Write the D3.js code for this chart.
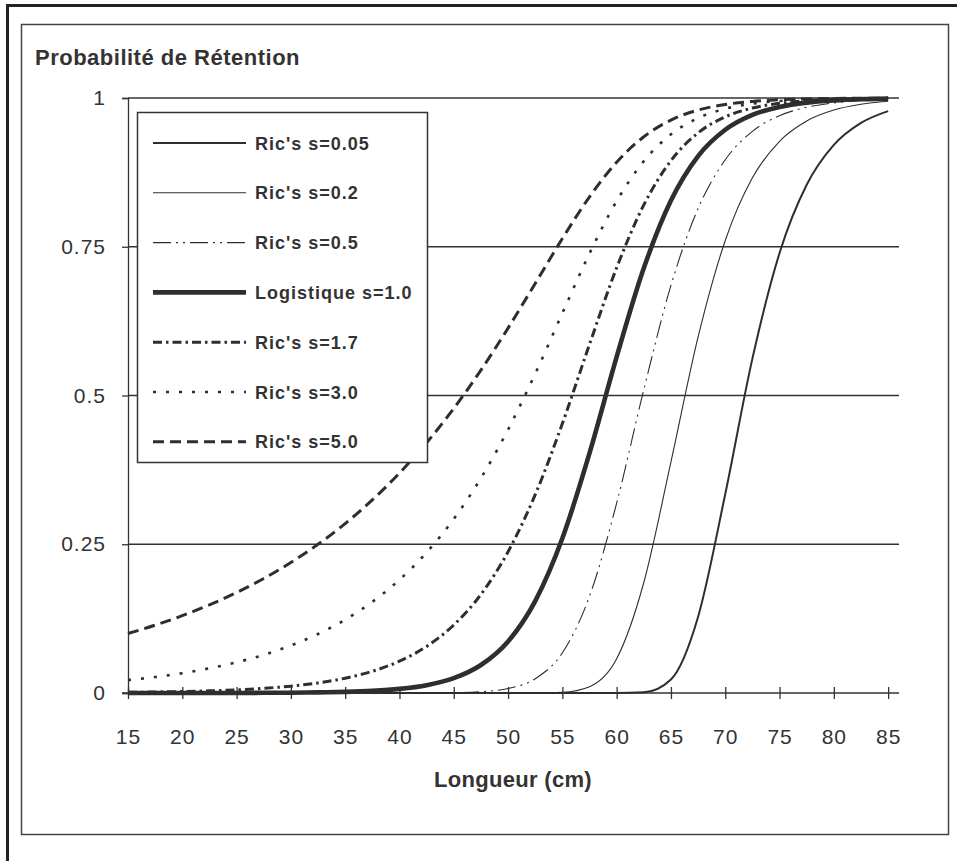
<!DOCTYPE html>
<html>
<head>
<meta charset="utf-8">
<script src="https://cdn.jsdelivr.net/npm/d3@7"></script>
<style>
  html, body { margin: 0; padding: 0; background: #fff; }
  svg { display: block; }
  text { font-family: "Liberation Sans", Arial, Helvetica, sans-serif; fill: #333; }
</style>
</head>
<body>
<svg id="chart" width="957" height="861"></svg>
<script>
// Fish length (cm) at which retention probability is sampled
const lengths = [15, 17.5, 20, 22.5, 25, 27.5, 30, 32.5, 35, 37.5, 40, 42.5, 45, 47.5, 50,
  52.5, 55, 57.5, 60, 62.5, 65, 67.5, 70, 72.5, 75, 77.5, 80, 82.5, 85];

// Retention probability per curve (Richards family, s = asymmetry parameter)
const ric005 = [0, 0, 0, 0, 0, 0, 0, 0, 0, 0, 0, 0, 0, 0, 0, 0, 0, 0, 0.0000, 0.0012, 0.0228,
  0.1282, 0.3344, 0.5620, 0.7395, 0.8542, 0.9212, 0.9582, 0.9780];
const ric02 = [0, 0, 0, 0, 0, 0, 0, 0, 0, 0, 0, 0, 0, 0, 0, 0.0001, 0.0012, 0.0107, 0.0576,
  0.1857, 0.3885, 0.5984, 0.7605, 0.8658, 0.9273, 0.9614, 0.9797, 0.9894, 0.9945];
const ric05 = [0, 0, 0, 0, 0, 0, 0, 0, 0, 0, 0, 0.0002, 0.0006, 0.0022, 0.0075, 0.0239, 0.0676,
  0.1626, 0.3192, 0.5099, 0.6851, 0.8143, 0.8962, 0.9440, 0.9703, 0.9844, 0.9918, 0.9957, 0.9978];
const logist10 = [0, 0, 0, 0.0001, 0.0001, 0.0003, 0.0005, 0.0010, 0.0019, 0.0036, 0.0069, 0.0132,
  0.0250, 0.0471, 0.0867, 0.1545, 0.2600, 0.4032, 0.5650, 0.7141, 0.8277, 0.9024, 0.9467, 0.9716,
  0.9850, 0.9922, 0.9959, 0.9979, 0.9989];
const ric17 = [0.0011, 0.0017, 0.0025, 0.0036, 0.0053, 0.0079, 0.0115, 0.0169, 0.0249, 0.0365,
  0.0535, 0.0783, 0.1143, 0.1657, 0.2374, 0.3333, 0.4528, 0.5861, 0.7148, 0.8203, 0.8947, 0.9414,
  0.9683, 0.9832, 0.9912, 0.9954, 0.9976, 0.9987, 0.9994];
const ric30 = [0.0216, 0.0268, 0.0333, 0.0415, 0.0516, 0.0641, 0.0798, 0.0992, 0.1233, 0.1532,
  0.1903, 0.2362, 0.2926, 0.3611, 0.4427, 0.5366, 0.6383, 0.7388, 0.8267, 0.8938, 0.9389, 0.9663,
  0.9819, 0.9904, 0.9950, 0.9974, 0.9986, 0.9993, 0.9996];
const ric50 = [0.1001, 0.1140, 0.1300, 0.1481, 0.1688, 0.1924, 0.2193, 0.2499, 0.2848, 0.3245,
  0.3696, 0.4207, 0.4783, 0.5427, 0.6133, 0.6883, 0.7638, 0.8339, 0.8921, 0.9349, 0.9629, 0.9797,
  0.9891, 0.9943, 0.9970, 0.9984, 0.9992, 0.9996, 0.9998];

const seriesLabels = ["Ric's s=0.05", "Ric's s=0.2", "Ric's s=0.5", "Logistique s=1.0",
  "Ric's s=1.7", "Ric's s=3.0", "Ric's s=5.0"];

const xTicks = [15, 20, 25, 30, 35, 40, 45, 50, 55, 60, 65, 70, 75, 80, 85];
const yTicks = [0, 0.25, 0.5, 0.75, 1];
const yTickLabels = ["0", "0.25", "0.5", "0.75", "1"];

const yTitle = "Probabilité de Rétention";
const xTitle = "Longueur (cm)";

// line styles per series
const ink = "#2e2e2e";
const styles = [
  { width: 2.0, dash: null },
  { width: 1.1, dash: null },
  { width: 1.1, dash: "18,5,2,5,2,5" },
  { width: 4.6, dash: null },
  { width: 3.0, dash: "9,4,2.5,4" },
  { width: 2.6, dash: "3,10" },
  { width: 3.0, dash: "11,6" }
];

const seriesValues = [ric005, ric02, ric05, logist10, ric17, ric30, ric50];
const series = seriesValues.map((vals, i) => ({
  label: seriesLabels[i],
  style: styles[i],
  points: lengths.map((L, j) => ({ x: L, y: vals[j] }))
}));

const svg = d3.select("#chart");

// outer and inner frames
svg.append("rect").attr("x", 7.5).attr("y", 5.5).attr("width", 980).attr("height", 900)
  .attr("fill", "none").attr("stroke", "#222").attr("stroke-width", 3);
svg.append("rect").attr("x", 21.5).attr("y", 24.5).attr("width", 927).attr("height", 810)
  .attr("fill", "none").attr("stroke", "#444").attr("stroke-width", 1.5);

const x = d3.scaleLinear().domain([15, 86]).range([128, 899]);
const y = d3.scaleLinear().domain([0, 1]).range([693, 98]);

// horizontal gridlines
svg.append("g").selectAll("line").data(yTicks.filter(d => d > 0)).join("line")
  .attr("x1", x(15)).attr("x2", x(86))
  .attr("y1", d => y(d)).attr("y2", d => y(d))
  .attr("stroke", "#333").attr("stroke-width", 1.3);

const tickFont = sel => sel.style("font-size", "21px").style("letter-spacing", "1px")
  .style("font-family", "'Liberation Sans', Arial, sans-serif").attr("fill", "#333");

// y axis
const yAxis = svg.append("g").attr("transform", `translate(${x(15)},0)`)
  .call(d3.axisLeft(y).tickValues(yTicks).tickSize(6).tickPadding(16)
    .tickFormat((d, i) => yTickLabels[i]));
yAxis.select(".domain").attr("stroke", "#333").attr("stroke-width", 1.3);
yAxis.selectAll(".tick line").attr("stroke", "#333").attr("stroke-width", 1.3);
yAxis.selectAll(".tick text").call(tickFont);

// x axis with crossing tick marks
const xAxis = svg.append("g").attr("transform", `translate(0,${y(0)})`)
  .call(d3.axisBottom(x).tickValues(xTicks).tickSize(6).tickSizeOuter(0).tickFormat(d3.format("d")));
xAxis.select(".domain").attr("d", `M${x(15) - 6},0H${x(86)}`)
  .attr("stroke", "#333").attr("stroke-width", 1.3);
xAxis.selectAll(".tick line").attr("y1", -6).attr("y2", 6).attr("stroke", "#333").attr("stroke-width", 1.3);
xAxis.selectAll(".tick text").attr("y", 51).attr("dy", null).call(tickFont);

// curves
const line = d3.line().x(d => x(d.x)).y(d => y(d.y)).curve(d3.curveMonotoneX);
svg.append("g").selectAll("path").data(series).join("path")
  .attr("d", d => line(d.points))
  .attr("fill", "none").attr("stroke", ink)
  .attr("stroke-width", d => d.style.width)
  .attr("stroke-dasharray", d => d.style.dash)
  .attr("stroke-linejoin", "round");

// titles
svg.append("text").attr("x", 35).attr("y", 65).text(yTitle)
  .style("font-size", "22px").style("font-weight", "bold").style("letter-spacing", "0.5px");
svg.append("text").attr("x", 513).attr("y", 787).attr("text-anchor", "middle").text(xTitle)
  .style("font-size", "22px").style("font-weight", "bold").style("letter-spacing", "0.3px");

// legend
const legend = svg.append("g");
legend.append("rect").attr("x", 137.5).attr("y", 112.5).attr("width", 290).attr("height", 350)
  .attr("fill", "#fff").attr("stroke", "#333").attr("stroke-width", 1.5);
const rows = legend.selectAll("g.row").data(series).join("g").attr("class", "row")
  .attr("transform", (d, i) => `translate(0,${143 + i * 49.8})`);
rows.append("line").attr("x1", 153).attr("x2", 246).attr("y1", 0).attr("y2", 0)
  .attr("stroke", ink).attr("stroke-width", d => d.style.width)
  .attr("stroke-dasharray", d => d.style.dash);
rows.append("text").attr("x", 255).attr("y", 6.5).text(d => d.label)
  .style("font-size", "18px").style("font-weight", "bold").style("letter-spacing", "1px");
</script>
</body>
</html>
